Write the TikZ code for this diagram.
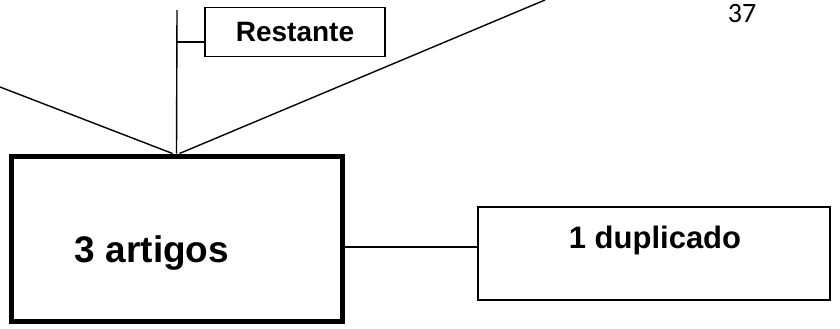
\documentclass[tikz,border=0pt]{standalone}
\usepackage{fontspec}
\setmainfont{Liberation Sans}
\newfontfamily\pagefont{Carlito}
\begin{document}
\begin{tikzpicture}[x=1pt,y=-1pt,
  thinline/.style={line width=1.4pt},
  boldlabel/.style={font=\bfseries, inner sep=0pt},
  mainbox/.style={draw, line width=5pt, inner sep=0pt},
  sidebox/.style={draw, line width=2pt, inner sep=0pt},
  smallbox/.style={draw, line width=1.3pt, inner sep=0pt}]
\useasboundingbox (0,0) rectangle (840,329);

% boxes
\node[mainbox, minimum width=331pt, minimum height=165pt] (main) at (176.5,238.5) {};
\node[sidebox, minimum width=352pt, minimum height=93pt] (dup) at (654,253.5) {};
\node[smallbox, minimum width=180pt, minimum height=49pt,
      font=\fontsize{28}{30}\selectfont\bfseries] (rest) at (295,31.7) {Restante};

% texts inside the boxes
\node[boldlabel, font=\fontsize{37}{40}\selectfont\bfseries] (maintext) at (152,253) {3 artigos};
\node[boldlabel, font=\fontsize{31}{34}\selectfont\bfseries] (duptext) at (655,240) {1 duplicado};

% page number
\node[inner sep=0pt, font=\pagefont\fontsize{28}{30}\selectfont] (page) at (742,14) {37};

% connectors
\coordinate (vtop) at (177,10);
\coordinate (tee) at (177,42);
\coordinate (leftend) at (0,87);
\coordinate (rightend) at (545,0);
\coordinate (link) at (0,247);

\draw[thinline] (vtop) -- (main.north);
\draw[thinline] (tee) -- (tee -| rest.west);
\draw[thinline] (leftend) -- ([xshift=-4pt]main.north);
\draw[thinline] (rightend) -- ([xshift=3pt]main.north);
\draw[thinline] (main.east |- link) -- (dup.west |- link);
\end{tikzpicture}
\end{document}
